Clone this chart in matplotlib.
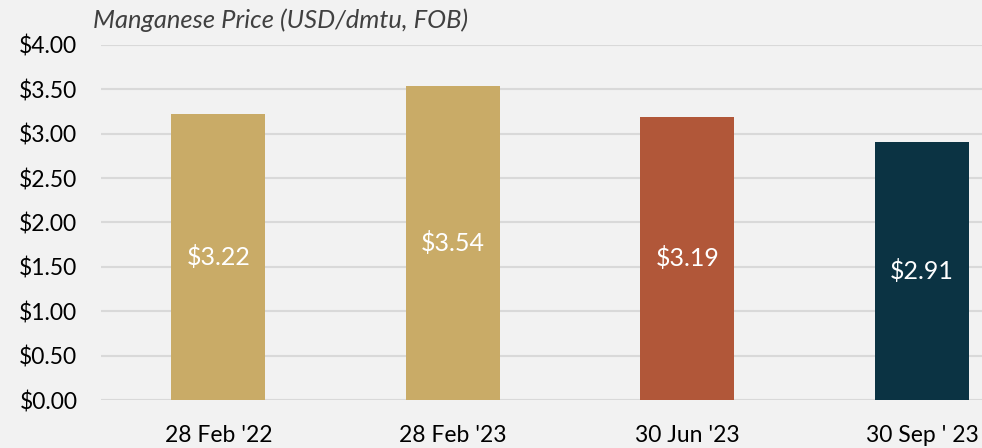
import matplotlib.pyplot as plt
from matplotlib.ticker import FuncFormatter

# Data
dates = ["28 Feb '22", "28 Feb '23", "30 Jun '23", "30 Sep ' 23"]
prices = [3.22, 3.54, 3.19, 2.91]
colors = ["#c9ab67", "#c9ab67", "#b15739", "#0b3343"]

plt.rcParams['font.family'] = ['Lato', 'DejaVu Sans']

fig = plt.figure(figsize=(9.82, 4.48), dpi=100, facecolor="#f2f2f2")
ax = fig.add_axes([101 / 982, 48 / 448, 881 / 982, 355 / 448])
ax.set_facecolor("#f2f2f2")

x = range(len(dates))
bars = ax.bar(x, prices, width=0.4, color=colors, zorder=3)

# value labels in the middle of each bar
for xi, p in zip(x, prices):
    ax.text(xi, p / 2, f"${p:.2f}", ha="center", va="center",
            color="white", fontsize=18, zorder=4)

ax.set_xlim(-0.5, 3.256)
ax.set_ylim(0, 4)
ax.set_yticks([i * 0.5 for i in range(9)])
ax.yaxis.set_major_formatter(FuncFormatter(lambda v, _: f"${v:.2f}"))
ax.set_xticks(list(x))
ax.set_xticklabels(dates)
ax.grid(axis="y", color="#d9d9d9", linewidth=1.5, zorder=0)
for s in ax.spines.values():
    s.set_visible(False)
ax.tick_params(length=0, labelsize=16.5, colors="black")
ax.tick_params(axis="y", pad=17)
ax.tick_params(axis="x", pad=18)

fig.text(93 / 982, 1 - 20 / 448, "Manganese Price (USD/dmtu, FOB)",
         style="italic", fontsize=18.4, color="#404040", va="center", ha="left")

fig.savefig("out.png", dpi=100, facecolor=fig.get_facecolor())
